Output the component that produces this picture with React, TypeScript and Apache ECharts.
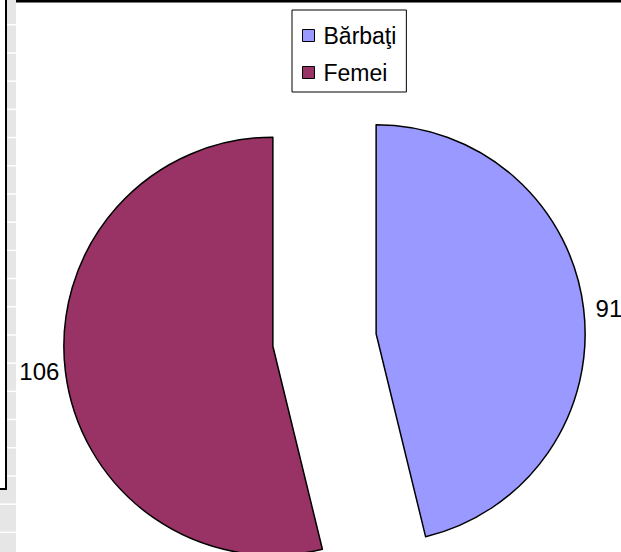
import React, { useEffect, useRef } from "react";
import * as echarts from "echarts";

const categories = ["Bărbaţi", "Femei"];
const values = [91, 106];
const colors = ["#9999FF", "#993366"];

export default function App() {
  const ref = useRef<HTMLDivElement>(null);
  useEffect(() => {
    if (!ref.current) return;
    const chart = echarts.init(ref.current, undefined, { renderer: "svg" });
    const W = 621;
    const seps: any[] = [];
    for (let k = 0; k < 20; k++) {
      const y = 24 + 28.2 * k;
      if (y > 552) break;
      seps.push({
        type: "rect",
        shape: { x: y > 489 ? 0 : 7, y: y, width: y > 489 ? 16 : 9, height: 1.5 },
        style: { fill: "#ffffff" },
        silent: true,
        z: 3,
      });
    }
    chart.setOption({
      animation: false,
      backgroundColor: "#ffffff",
      graphic: [
        { type: "rect", shape: { x: 7, y: 0, width: 9, height: 552 }, style: { fill: "#e6e6e6" }, z: 2 },
        { type: "rect", shape: { x: 0, y: 489, width: 16, height: 63 }, style: { fill: "#e6e6e6" }, z: 2 },
        ...seps,
        { type: "rect", shape: { x: 5, y: 0, width: 2, height: 490 }, style: { fill: "#000000" }, z: 4 },
        { type: "rect", shape: { x: 0, y: 488, width: 7, height: 2 }, style: { fill: "#000000" }, z: 4 },
        { type: "rect", shape: { x: 16, y: 0, width: W - 16, height: 2 }, style: { fill: "#000000" }, z: 4 },
        { type: "rect", shape: { x: 16, y: 2, width: W - 16, height: 1 }, style: { fill: "#777777" }, z: 4 },
      ],
      legend: {
        orient: "vertical",
        left: 292,
        top: 10,
        width: 114,
        data: categories,
        icon: "rect",
        itemWidth: 12,
        itemHeight: 12,
        itemGap: 14,
        padding: [14, 10, 8, 10],
        borderColor: "#000000",
        borderWidth: 1,
        selectedMode: false,
        itemStyle: { borderColor: "#000000", borderWidth: 1 },
        textStyle: {
          fontFamily: "Liberation Sans, Arial, sans-serif",
          fontSize: 23,
          color: "#000000",
          padding: [0, 0, 0, 4],
        },
      },
      series: [
        {
          type: "pie",
          center: [324.5, 340],
          radius: 209,
          startAngle: 90,
          clockwise: true,
          selectedMode: "multiple",
          selectedOffset: 52,
          avoidLabelOverlap: false,
          emphasis: { disabled: true },
          itemStyle: { borderColor: "#000000", borderWidth: 1.5 },
          label: {
            show: true,
            position: "outside",
            formatter: "{c}",
            fontFamily: "Liberation Sans, Arial, sans-serif",
            fontSize: 24,
            color: "#000000",
          },
          labelLine: { show: false, length: 7, length2: 0 },
          data: categories.map((c, i) => ({
            name: c,
            value: values[i],
            selected: true,
            itemStyle: { color: colors[i] },
            labelLine: { show: false, length: i === 1 ? 2 : 7, length2: 0 },
            label: { distanceToLabelLine: i === 1 ? 4 : 5 },
          })),
        },
      ],
    });
    return () => chart.dispose();
  }, []);
  return (
    <div
      ref={ref}
      style={{ position: "fixed", left: 0, top: 0, width: 621, height: 552 }}
    />
  );
}
